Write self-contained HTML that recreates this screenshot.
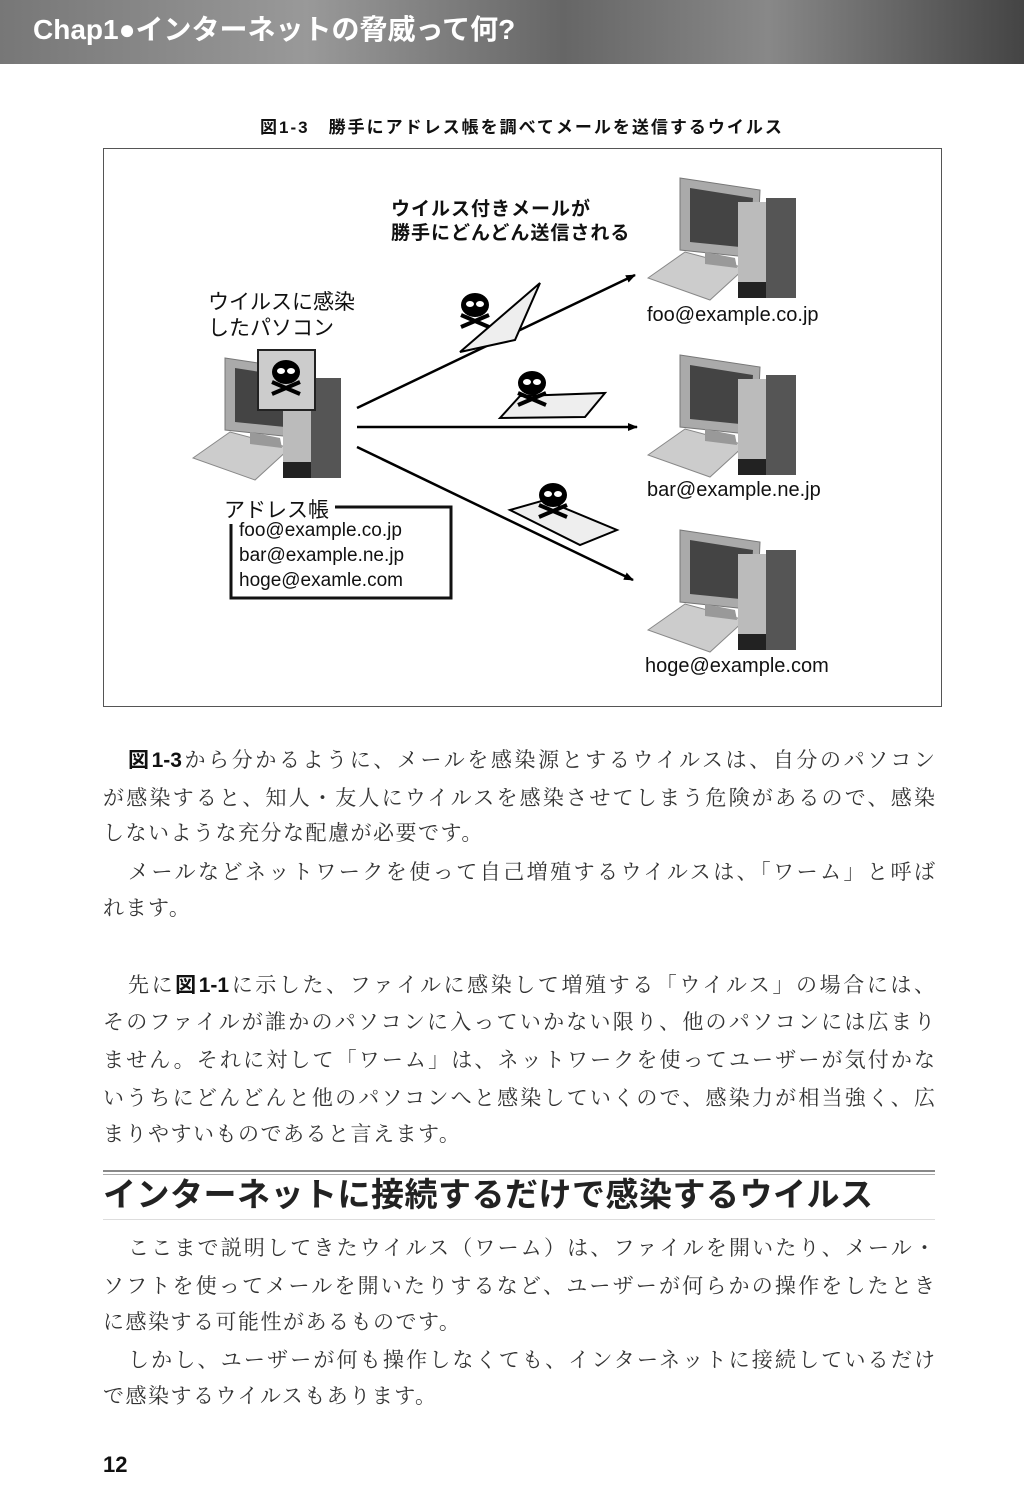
<!DOCTYPE html>
<html><head><meta charset="utf-8">
<style>
*{margin:0;padding:0}
body{width:1024px;height:1505px;background:#fff;position:relative;overflow:hidden;font-family:"Liberation Serif","Noto Serif CJK SC",serif;color:#222}
.hd{position:absolute;left:0;top:0;width:1024px;height:64px;background:linear-gradient(90deg,#777,#999 30%,#666 55%,#888 75%,#444)}
.hd span{position:absolute;left:33px;top:8px;font:bold 28px "Liberation Sans","Noto Sans CJK JP",sans-serif;color:#fff}
.cap{position:absolute;left:0;width:1044px;top:113px;text-align:center;font:bold 17px "Liberation Sans","Noto Sans CJK JP",sans-serif;letter-spacing:2px;color:#111}
.frame{position:absolute;left:103px;top:148px;width:837px;height:557px;border:1px solid #555}
.t{position:absolute;left:103px;width:832px;font-size:21px;line-height:28px;text-align:justify;text-align-last:justify;white-space:nowrap;color:#333}
.t.l{text-align-last:left;letter-spacing:1.5px}
.s{position:absolute;font-family:"Liberation Sans","Noto Sans CJK JP",sans-serif;color:#111}
b{font-family:"Liberation Sans","Noto Sans CJK JP",sans-serif;color:#111}
</style></head><body>
<div class="hd"><span>Chap1●インターネットの脅威って何?</span></div>
<div class="cap">図1-3　勝手にアドレス帳を調べてメールを送信するウイルス</div>
<div class="frame"></div>
<svg width="1024" height="720" style="position:absolute;left:0;top:0">
<defs>
<g id="pc">
<polygon points="3,100 40,74 100,90 65,122" fill="#ccc" stroke="#888"/>
<polygon points="35,0 115,12 112,80 35,72" fill="#aaa" stroke="#777"/>
<polygon points="45,10 108,20 105,70 45,64" fill="#444"/>
<polygon points="60,74 90,80 92,90 60,86" fill="#999"/>
<rect x="93" y="24" width="28" height="96" fill="#bbb"/>
<rect x="121" y="20" width="30" height="100" fill="#555"/>
<rect x="93" y="104" width="28" height="16" fill="#222"/>
</g>
<marker id="ar" markerWidth="10" markerHeight="8" refX="9" refY="4" orient="auto" markerUnits="userSpaceOnUse"><polygon points="0,0 10,4 0,8" fill="#000"/></marker>
<g id="sk"><ellipse cx="0" cy="0" rx="14" ry="12" fill="#000"/><ellipse cx="-5" cy="-1" rx="4" ry="3" fill="#fff"/><ellipse cx="5" cy="-1" rx="4" ry="3" fill="#fff"/><path d="M-14,10 L14,22 M14,10 L-14,22" stroke="#000" stroke-width="4"/></g>
</defs>
<use href="#pc" x="645" y="178"/>
<use href="#pc" x="645" y="355"/>
<use href="#pc" x="645" y="530"/>
<use href="#pc" x="190" y="358"/>
<rect x="258" y="350" width="57" height="60" fill="#ccc" stroke="#222" stroke-width="2"/>
<use href="#sk" x="286" y="372"/>
<g stroke="#000" stroke-width="2.5" fill="none">
<line x1="357" y1="408" x2="635" y2="275" marker-end="url(#ar)"/>
<line x1="357" y1="427" x2="637" y2="427" marker-end="url(#ar)"/>
<line x1="357" y1="447" x2="633" y2="580" marker-end="url(#ar)"/>
</g>
<polygon points="460,352 540,283 515,340" fill="#eee" stroke="#000" stroke-width="2"/>
<use href="#sk" x="475" y="305"/>
<polygon points="500,418 520,396 605,393 585,417" fill="#eee" stroke="#000" stroke-width="2"/>
<use href="#sk" x="532" y="383"/>
<polygon points="510,510 545,500 617,530 580,545" fill="#eee" stroke="#000" stroke-width="2"/>
<use href="#sk" x="553" y="495"/>
<polyline points="335,507 451,507 451,598 231,598 231,520" fill="none" stroke="#111" stroke-width="3"/>
</svg>
<div class="s" style="left:391px;top:198px;font-size:19px;font-weight:bold;line-height:24px;letter-spacing:1px">ウイルス付きメールが<br>勝手にどんどん送信される</div>
<div class="s" style="left:208px;top:290px;font-size:21px;line-height:26px">ウイルスに感染<br>したパソコン</div>
<div class="s" style="left:224px;top:494px;font-size:21px;background:#fff;padding-right:3px">アドレス帳</div>
<div class="s" style="left:239px;top:518px;font-size:19px;line-height:25px">foo@example.co.jp<br>bar@example.ne.jp<br>hoge@examle.com</div>
<div class="s" style="left:647px;top:304px;font-size:20px">foo@example.co.jp</div>
<div class="s" style="left:647px;top:479px;font-size:20px">bar@example.ne.jp</div>
<div class="s" style="left:645px;top:655px;font-size:20px">hoge@example.com</div>

<div class="t" style="top:746px;left:128px;width:807px"><b>図1-3</b>から分かるように、メールを感染源とするウイルスは、自分のパソコン</div>
<div class="t" style="top:784px">が感染すると、知人・友人にウイルスを感染させてしまう危険があるので、感染</div>
<div class="t l" style="top:819px">しないような充分な配慮が必要です。</div>
<div class="t" style="top:858px;left:128px;width:807px">メールなどネットワークを使って自己増殖するウイルスは、「ワーム」と呼ば</div>
<div class="t l" style="top:894px">れます。</div>
<div class="t" style="top:971px;left:128px;width:807px">先に<b>図1-1</b>に示した、ファイルに感染して増殖する「ウイルス」の場合には、</div>
<div class="t" style="top:1008px">そのファイルが誰かのパソコンに入っていかない限り、他のパソコンには広まり</div>
<div class="t" style="top:1046px">ません。それに対して「ワーム」は、ネットワークを使ってユーザーが気付かな</div>
<div class="t" style="top:1084px">いうちにどんどんと他のパソコンへと感染していくので、感染力が相当強く、広</div>
<div class="t l" style="top:1120px">まりやすいものであると言えます。</div>
<div style="position:absolute;left:103px;top:1170px;width:832px;border-top:2px solid #888;border-bottom:1px solid #aaa;height:2px"></div>
<div class="s" style="left:103px;top:1174px;font-size:33px;line-height:42px;color:#222;font-weight:bold;letter-spacing:0.5px">インターネットに接続するだけで感染するウイルス</div>
<div style="position:absolute;left:103px;top:1219px;width:832px;border-top:1px solid #ddd"></div>
<div class="t" style="top:1234px;left:128px;width:807px">ここまで説明してきたウイルス（ワーム）は、ファイルを開いたり、メール・</div>
<div class="t" style="top:1272px">ソフトを使ってメールを開いたりするなど、ユーザーが何らかの操作をしたとき</div>
<div class="t l" style="top:1308px">に感染する可能性があるものです。</div>
<div class="t" style="top:1346px;left:128px;width:807px">しかし、ユーザーが何も操作しなくても、インターネットに接続しているだけ</div>
<div class="t l" style="top:1382px">で感染するウイルスもあります。</div>
<div class="s" style="left:103px;top:1452px;font-size:22px;font-weight:bold">12</div>
</body></html>
